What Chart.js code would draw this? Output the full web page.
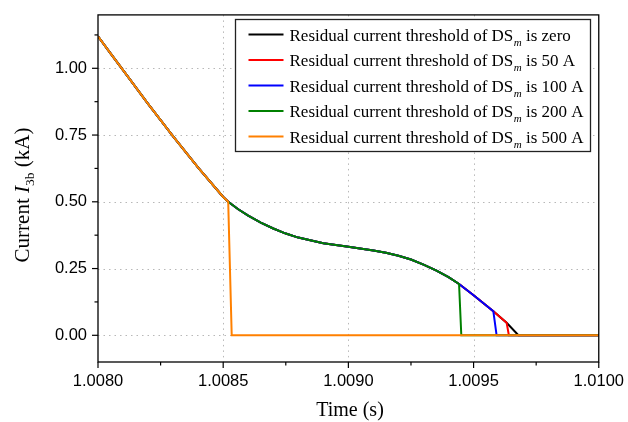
<!DOCTYPE html>
<html><head><meta charset="utf-8">
<script src="https://cdn.jsdelivr.net/npm/chart.js@4"></script>
<style>html,body{margin:0;padding:0;background:#fff}#wrap{width:628px;height:422px;position:relative}</style>
</head><body><div id="wrap"><canvas id="c"></canvas></div>
<script>
// Full current trajectory (no threshold)
const trajTime = [1.00800, 1.00805, 1.00810, 1.00820, 1.00830, 1.00840, 1.00850, 1.00852,
  1.00856, 1.00860, 1.00865, 1.00870, 1.00875, 1.00880, 1.00890, 1.00900, 1.00910, 1.00915,
  1.00920, 1.00925, 1.00930, 1.00935, 1.00940,
  1.009442, 1.00950, 1.009579, 1.009632, 1.009679];
const trajCurrent = [1.120, 1.056, 0.993, 0.867, 0.745, 0.628, 0.518, 0.500,
  0.472, 0.448, 0.422, 0.400, 0.381, 0.366, 0.345, 0.332, 0.318, 0.309,
  0.298, 0.284, 0.265, 0.243, 0.218,
  0.192, 0.150, 0.090, 0.047, 0.000];
// Series: interruption time (last point kept) and time when current reaches zero
const seriesNames = ['zero', '50 A', '100 A', '200 A', '500 A'];
const interruptTime = [1.009679, 1.009632, 1.009579, 1.009442, 1.00852];
const zeroTime = [1.009679, 1.009641, 1.009592, 1.009451, 1.008534];
const endTime = 1.0100;
const seriesColors = ['#000000', '#ff0000', '#0000ff', '#008000', '#ff8000'];
// Axes
const xMin = 1.0080, xMax = 1.0100, xStep = 0.00025;
const yMin = -0.1, yMax = 1.2, yStep = 0.125;
const xMajorTicks = [1.0080, 1.0085, 1.0090, 1.0095, 1.0100];
const xTickLabels = ['1.0080', '1.0085', '1.0090', '1.0095', '1.0100'];
const yMajorTicks = [0, 0.25, 0.5, 0.75, 1.0];
const yTickLabels = ['0.00', '0.25', '0.50', '0.75', '1.00'];

function buildSeries(k) {
  const pts = [];
  for (let i = 0; i < trajTime.length; i++) {
    if (trajTime[i] <= interruptTime[k] + 1e-9) pts.push({x: trajTime[i], y: trajCurrent[i]});
  }
  const last = pts[pts.length - 1];
  if (Math.abs(last.x - zeroTime[k]) > 1e-9 || last.y !== 0) pts.push({x: zeroTime[k], y: 0});
  pts.push({x: endTime, y: 0});
  return pts;
}

const datasets = seriesNames.map((n, k) => ({
  label: 'Residual current threshold of DSm is ' + n,
  data: buildSeries(k),
  borderColor: seriesColors[k],
  backgroundColor: seriesColors[k],
  borderWidth: 2,
  pointRadius: 0,
  tension: 0,
  fill: false,
  order: seriesNames.length - k
}));

function majorLabel(v, majors, labels) {
  for (let i = 0; i < majors.length; i++) if (Math.abs(v - majors[i]) < 1e-7) return labels[i];
  return '';
}
function isMajor(v, majors) { return majors.some(m => Math.abs(v - m) < 1e-7); }

const SERIF = '"Liberation Serif", "Times New Roman", serif';
const SANS = '"Liberation Sans", Arial, sans-serif';

const decor = {
  id: 'decor',
  beforeDatasetsDraw(chart) {
    const {ctx, chartArea: a, scales: {x, y}} = chart;
    ctx.save();
    ctx.strokeStyle = '#b8b8b8';
    ctx.lineWidth = 1;
    ctx.setLineDash([1.5, 4]);
    xMajorTicks.forEach(v => {
      if (v <= xMin + 1e-9 || v >= xMax - 1e-9) return;
      const px = Math.round(x.getPixelForValue(v)) + 0.5;
      ctx.beginPath(); ctx.moveTo(px, a.top); ctx.lineTo(px, a.bottom); ctx.stroke();
    });
    yMajorTicks.forEach(v => {
      const py = Math.round(y.getPixelForValue(v)) + 0.5;
      ctx.beginPath(); ctx.moveTo(a.left, py); ctx.lineTo(a.right, py); ctx.stroke();
    });
    ctx.restore();
  },
  afterDraw(chart) {
    const {ctx, chartArea: a, scales: {x, y}} = chart;
    ctx.save();
    // frame
    ctx.strokeStyle = '#000'; ctx.lineWidth = 1.3;
    ctx.strokeRect(a.left, a.top, a.right - a.left, a.bottom - a.top);
    // tick marks
    ctx.lineWidth = 1.2;
    x.ticks.forEach(t => {
      const px = x.getPixelForValue(t.value);
      const len = isMajor(t.value, xMajorTicks) ? 6 : 3.5;
      ctx.beginPath(); ctx.moveTo(px, a.bottom); ctx.lineTo(px, a.bottom + len); ctx.stroke();
    });
    y.ticks.forEach(t => {
      const py = y.getPixelForValue(t.value);
      const len = isMajor(t.value, yMajorTicks) ? 6 : 3.5;
      ctx.beginPath(); ctx.moveTo(a.left, py); ctx.lineTo(a.left - len, py); ctx.stroke();
    });
    // legend
    const L = {left: 235.5, top: 19.5, right: 590.5, bottom: 151.5, row0: 34.5, step: 25.5};
    ctx.fillStyle = '#fff';
    ctx.fillRect(L.left, L.top, L.right - L.left, L.bottom - L.top);
    ctx.strokeStyle = '#222'; ctx.lineWidth = 1.3;
    ctx.strokeRect(L.left, L.top, L.right - L.left, L.bottom - L.top);
    seriesNames.forEach((n, k) => {
      const cy = L.row0 + k * L.step;
      ctx.strokeStyle = seriesColors[k]; ctx.lineWidth = 2;
      ctx.beginPath(); ctx.moveTo(248.5, cy); ctx.lineTo(283.5, cy); ctx.stroke();
      ctx.fillStyle = '#000'; ctx.textBaseline = 'alphabetic'; ctx.textAlign = 'left';
      let tx = 289.5; const by = cy + 6;
      ctx.font = '17px ' + SERIF;
      const s1 = 'Residual current threshold of DS';
      ctx.fillText(s1, tx, by); tx += ctx.measureText(s1).width;
      ctx.font = 'italic 11px ' + SERIF;
      ctx.fillText('m', tx + 0.5, by + 5); tx += ctx.measureText('m').width + 0.5;
      ctx.font = '17px ' + SERIF;
      ctx.fillText(' is ' + n, tx, by);
    });
    // x title
    ctx.font = '20px ' + SERIF; ctx.fillStyle = '#000';
    ctx.textAlign = 'center'; ctx.textBaseline = 'alphabetic';
    ctx.fillText('Time (s)', 350, 416);
    // y title with italic I and subscript 3b
    const parts = [
      {t: 'Current ', f: '21px ' + SERIF, dy: 0},
      {t: 'I', f: 'italic 21px ' + SERIF, dy: 0},
      {t: '3b', f: '13.5px ' + SERIF, dy: 5},
      {t: ' (kA)', f: '21px ' + SERIF, dy: 0}
    ];
    let total = 0;
    parts.forEach(p => { ctx.font = p.f; p.w = ctx.measureText(p.t).width; total += p.w; });
    ctx.translate(29, 195); ctx.rotate(-Math.PI / 2);
    ctx.textAlign = 'left';
    let px = -total / 2;
    parts.forEach(p => { ctx.font = p.f; ctx.fillText(p.t, px, p.dy); px += p.w; });
    ctx.restore();
  }
};

new Chart(document.getElementById('c'), {
  type: 'line',
  data: {datasets},
  options: {
    responsive: true, maintainAspectRatio: false, animation: false,
    layout: {padding: {top: 13, right: 28, left: 0, bottom: 0}},
    plugins: {legend: {display: false}, tooltip: {enabled: false}},
    scales: {
      x: {
        type: 'linear', min: xMin, max: xMax,
        ticks: {stepSize: xStep, autoSkip: false, maxRotation: 0, includeBounds: false,
          color: '#000', padding: 4, font: {family: SANS, size: 16.5},
          callback: v => majorLabel(v, xMajorTicks, xTickLabels)},
        grid: {display: true, drawOnChartArea: false, color: 'rgba(0,0,0,0)', tickColor: 'rgba(0,0,0,0)', tickLength: 6},
        border: {display: false},
        afterFit: s => { s.height = 60; }
      },
      y: {
        type: 'linear', min: yMin, max: yMax,
        ticks: {stepSize: yStep, autoSkip: false, includeBounds: false,
          color: '#000', padding: 5, font: {family: SANS, size: 16.5},
          callback: v => majorLabel(v, yMajorTicks, yTickLabels)},
        grid: {display: true, drawOnChartArea: false, color: 'rgba(0,0,0,0)', tickColor: 'rgba(0,0,0,0)', tickLength: 6},
        border: {display: false},
        afterFit: s => { s.width = 98; }
      }
    }
  },
  plugins: [decor]
});
</script></body></html>
